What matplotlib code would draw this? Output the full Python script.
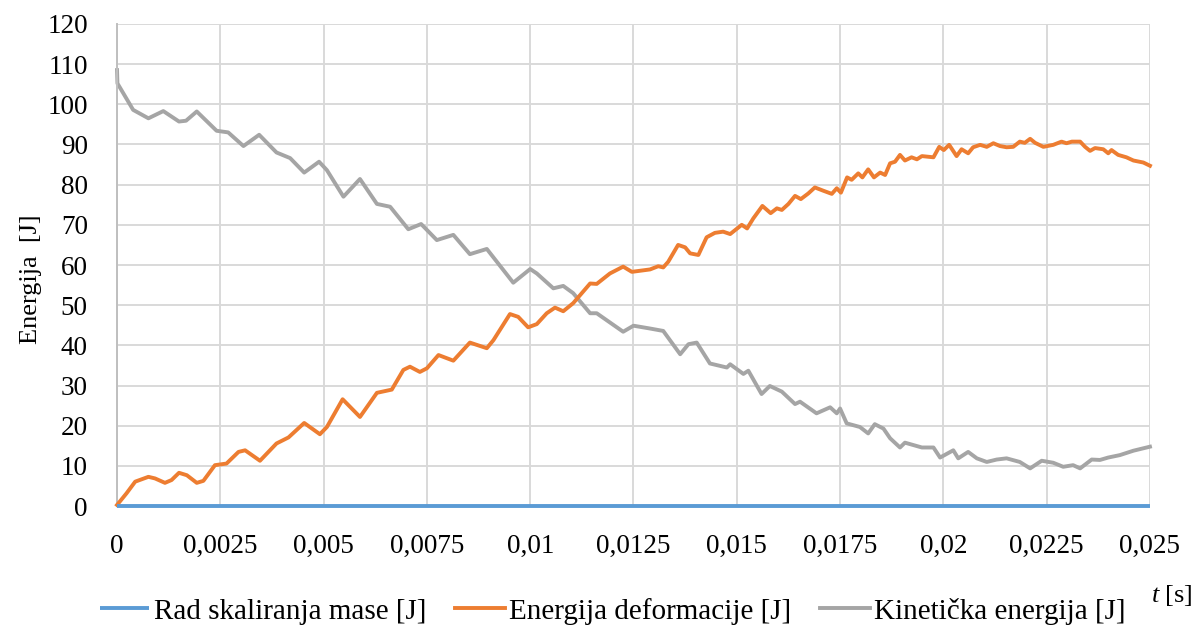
import matplotlib
matplotlib.use("Agg")
import matplotlib.pyplot as plt
from matplotlib.ticker import MultipleLocator, FuncFormatter

plt.rcParams['font.family'] = ['Liberation Serif', 'DejaVu Serif']
plt.rcParams['mathtext.fontset'] = 'custom'
plt.rcParams['mathtext.it'] = 'Liberation Serif:italic'

# mass scaling work stays at zero over the whole run
t_mass = [0.0, 0.025]
e_mass = [0.0, 0.0]

# strain energy [J]
t_def = [0.0, 0.00023, 0.00044, 0.00076, 0.00092, 0.00116, 0.00132, 0.00150, 0.00169, 0.00193,
         0.00209, 0.00237, 0.00265, 0.00294, 0.00310, 0.00346, 0.00386, 0.00415, 0.00453, 0.00491,
         0.00508, 0.00546, 0.00588, 0.00629, 0.00665, 0.00693, 0.00709, 0.00733, 0.00750, 0.00778,
         0.00814, 0.00854, 0.00895, 0.00911, 0.00951, 0.00971, 0.00995, 0.01016, 0.01040, 0.01060,
         0.01080, 0.01104, 0.01145, 0.01161, 0.01193, 0.01225, 0.01246, 0.01290, 0.01310, 0.01322,
         0.01334, 0.01358, 0.01375, 0.01387, 0.01407, 0.01427, 0.01447, 0.01467, 0.01484, 0.01512,
         0.01525, 0.01540, 0.01562, 0.01582, 0.01597, 0.01609, 0.01625, 0.01641, 0.01655, 0.01673,
         0.01689, 0.01709, 0.01730, 0.01742, 0.01752, 0.01767, 0.01778, 0.01794, 0.01804, 0.01818,
         0.01832, 0.01847, 0.01859, 0.01871, 0.01883, 0.01895, 0.01907, 0.01923, 0.01936, 0.01948,
         0.01976, 0.01990, 0.02001, 0.02014, 0.02032, 0.02044, 0.02060, 0.02072, 0.02089, 0.02105,
         0.02121, 0.02137, 0.02153, 0.02169, 0.02185, 0.02197, 0.02210, 0.02222, 0.02242, 0.02266,
         0.02286, 0.02298, 0.02311, 0.02331, 0.02343, 0.02355, 0.02367, 0.02387, 0.02399, 0.02407,
         0.02423, 0.02443, 0.02460, 0.02484, 0.02500]
e_def = [0.3, 3.2, 6.1, 7.3, 6.9, 5.8, 6.5, 8.3, 7.7, 5.8,
         6.3, 10.2, 10.6, 13.5, 13.9, 11.3, 15.6, 17.1, 20.7, 17.9,
         19.7, 26.6, 22.2, 28.2, 29.0, 33.9, 34.7, 33.4, 34.3, 37.6,
         36.2, 40.7, 39.3, 41.3, 47.8, 47.1, 44.5, 45.3, 48.0, 49.4,
         48.5, 50.5, 55.4, 55.3, 57.9, 59.6, 58.3, 58.9, 59.7, 59.4,
         60.8, 65.0, 64.4, 62.9, 62.5, 66.9, 68.0, 68.3, 67.7, 70.0,
         69.1, 71.6, 74.7, 72.9, 74.1, 73.7, 75.2, 77.2, 76.4, 77.8,
         79.3, 78.5, 77.7, 79.1, 78.0, 81.8, 81.2, 82.8, 81.8, 83.8,
         81.8, 83.0, 82.4, 85.3, 85.7, 87.4, 86.0, 86.8, 86.3, 87.1,
         86.8, 89.4, 88.6, 89.9, 87.1, 88.8, 87.8, 89.3, 89.9, 89.4,
         90.3, 89.6, 89.3, 89.4, 90.7, 90.4, 91.4, 90.4, 89.4, 89.9,
         90.7, 90.3, 90.7, 90.7, 89.4, 88.4, 89.1, 88.8, 87.8, 88.6,
         87.4, 86.8, 86.0, 85.5, 84.7]

# kinetic energy [J]
t_kin = [0.0, 0.00001, 0.00039, 0.00076, 0.00112, 0.00150, 0.00167, 0.00193, 0.00241, 0.00269,
         0.00306, 0.00344, 0.00386, 0.00419, 0.00453, 0.00489, 0.00508, 0.00548, 0.00588, 0.00629,
         0.00661, 0.00705, 0.00736, 0.00774, 0.00814, 0.00854, 0.00895, 0.00959, 0.01000, 0.01016,
         0.01056, 0.01080, 0.01104, 0.01145, 0.01161, 0.01225, 0.01250, 0.01290, 0.01322, 0.01363,
         0.01383, 0.01403, 0.01435, 0.01476, 0.01484, 0.01516, 0.01528, 0.01560, 0.01580, 0.01609,
         0.01641, 0.01653, 0.01693, 0.01726, 0.01742, 0.01750, 0.01766, 0.01798, 0.01818, 0.01834,
         0.01855, 0.01871, 0.01895, 0.01907, 0.01948, 0.01976, 0.01992, 0.02024, 0.02036, 0.02060,
         0.02081, 0.02105, 0.02129, 0.02153, 0.02185, 0.02210, 0.02238, 0.02266, 0.02290, 0.02314,
         0.02331, 0.02359, 0.02379, 0.02399, 0.02427, 0.02460, 0.02500]
e_kin = [108.5, 105.2, 98.6, 96.5, 98.3, 95.7, 95.9, 98.2, 93.4, 93.0,
         89.6, 92.4, 88.0, 86.6, 83.0, 85.7, 83.6, 77.0, 81.4, 75.2,
         74.5, 68.9, 70.2, 66.2, 67.5, 62.7, 64.0, 55.6, 59.0, 57.9,
         54.2, 54.8, 53.0, 48.0, 48.0, 43.4, 44.9, 44.2, 43.6, 37.8,
         40.3, 40.7, 35.5, 34.5, 35.3, 32.9, 33.7, 27.9, 29.9, 28.5,
         25.4, 26.0, 23.1, 24.6, 23.1, 24.3, 20.6, 19.7, 18.1, 20.4,
         19.3, 16.9, 14.6, 15.8, 14.6, 14.6, 12.1, 13.9, 11.9, 13.5,
         11.9, 11.0, 11.6, 11.9, 11.0, 9.4, 11.3, 10.8, 9.8, 10.2,
         9.4, 11.6, 11.5, 12.1, 12.7, 13.8, 14.8]

labels = ['Rad skaliranja mase [J]', 'Energija deformacije [J]', 'Kinetička energija [J]']
colors = ['#5b9bd5', '#ed7d31', '#a5a5a5']

fig = plt.figure(figsize=(11.99, 6.28), dpi=100)
ax = fig.add_axes([0.0976, 0.194, 0.8615, 0.768])

lw = 2.8
ax.plot(t_mass, e_mass, color=colors[0], lw=lw, label=labels[0], zorder=4, clip_on=False,
        solid_capstyle='butt')
ax.plot(t_def, e_def, color=colors[1], lw=lw, label=labels[1], zorder=3, clip_on=False,
        solid_joinstyle='round')
ax.plot(t_kin, e_kin, color=colors[2], lw=lw, label=labels[2], zorder=2, clip_on=False,
        solid_joinstyle='round')

ax.set_xlim(0, 0.025)
ax.set_ylim(0, 120)
ax.xaxis.set_major_locator(MultipleLocator(0.0025))
ax.yaxis.set_major_locator(MultipleLocator(10))
ax.xaxis.set_major_formatter(FuncFormatter(lambda v, p: ('%g' % round(v, 5)).replace('.', ',')))
ax.grid(True, color='#d9d9d9', lw=1.4, zorder=0)
ax.set_axisbelow(True)

for s in ['top', 'right', 'bottom']:
    ax.spines[s].set_visible(False)
ax.spines['left'].set_color('#bfbfbf')
ax.spines['left'].set_linewidth(1.4)
ax.tick_params(length=0, labelsize=19.5, colors='black')
ax.tick_params(axis='x', pad=20)
ax.tick_params(axis='y', pad=21)

ax.set_ylabel('Energija  [J]', fontsize=19, labelpad=4, y=0.47)
fig.text(0.977, 0.051, r'$t$ [s]', fontsize=19, ha='center', va='center')

fig.legend(loc='center', bbox_to_anchor=(0.511, 0.027), ncol=3, frameon=False,
           fontsize=21, handlelength=1.7, handletextpad=0.15, columnspacing=1.0)

fig.savefig('out.png', dpi=100)
